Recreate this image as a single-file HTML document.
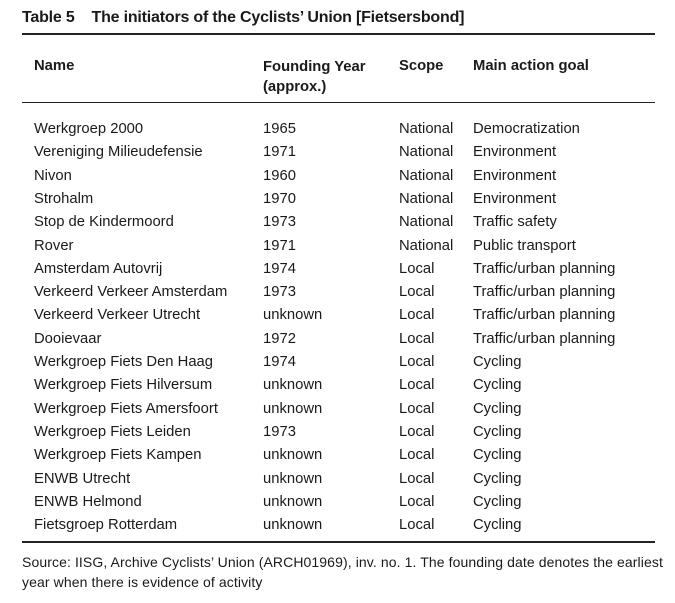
<!DOCTYPE html>
<html><head><meta charset="utf-8"><style>
body{margin:0;width:675px;height:603px;background:#fff;font-family:"Liberation Sans",sans-serif;color:#1a1a1a;position:relative;overflow:hidden}
.a{position:absolute;white-space:nowrap;font-size:14.8px;line-height:18px}
.b{font-weight:bold}
.line{position:absolute;left:22px;width:633px;background:#222}
</style></head><body>
<div class="a b" style="left:22px;top:9px;font-size:16px;letter-spacing:-0.2px">Table 5&nbsp;&nbsp;&nbsp; The initiators of the Cyclists’ Union [Fietsersbond]</div>
<div class="line" style="top:33px;height:1.5px"></div>
<div class="a b" style="left:34px;top:57px">Name</div>
<div class="a b" style="left:263px;top:57px;line-height:20px">Founding Year<br>(approx.)</div>
<div class="a b" style="left:399px;top:57px">Scope</div>
<div class="a b" style="left:473px;top:57px">Main action goal</div>
<div class="line" style="top:102px;height:1px"></div>
<div id="rows"></div>
<div class="line" style="top:541px;height:1.5px"></div>
<div class="a" style="left:22px;top:552px;font-size:14px;line-height:20px;letter-spacing:0.1px">Source: IISG, Archive Cyclists’ Union (ARCH01969), inv. no. 1. The founding date denotes the earliest<br>year when there is evidence of activity</div>
<script>
const names=["Werkgroep 2000","Vereniging Milieudefensie","Nivon","Strohalm","Stop de Kindermoord","Rover","Amsterdam Autovrij","Verkeerd Verkeer Amsterdam","Verkeerd Verkeer Utrecht","Dooievaar","Werkgroep Fiets Den Haag","Werkgroep Fiets Hilversum","Werkgroep Fiets Amersfoort","Werkgroep Fiets Leiden","Werkgroep Fiets Kampen","ENWB Utrecht","ENWB Helmond","Fietsgroep Rotterdam"];
const years=["1965","1971","1960","1970","1973","1971","1974","1973","unknown","1972","1974","unknown","unknown","1973","unknown","unknown","unknown","unknown"];
const scopes=["National","National","National","National","National","National","Local","Local","Local","Local","Local","Local","Local","Local","Local","Local","Local","Local"];
const goals=["Democratization","Environment","Environment","Environment","Traffic safety","Public transport","Traffic/urban planning","Traffic/urban planning","Traffic/urban planning","Traffic/urban planning","Cycling","Cycling","Cycling","Cycling","Cycling","Cycling","Cycling","Cycling"];
const cont=document.getElementById('rows');
const xs=[34,263,399,473];
names.forEach((n,i)=>{
  const vals=[n,years[i],scopes[i],goals[i]];
  const keys=['name','year','scope','goal'];
  vals.forEach((v,j)=>{
    const d=document.createElement('div');
    d.className='a';
    d.style.left=xs[j]+'px';
    d.style.top=(120+i*23.3)+'px';
    d.textContent=v;
    
    
    cont.appendChild(d);
  });
});
</script>
</body></html>
